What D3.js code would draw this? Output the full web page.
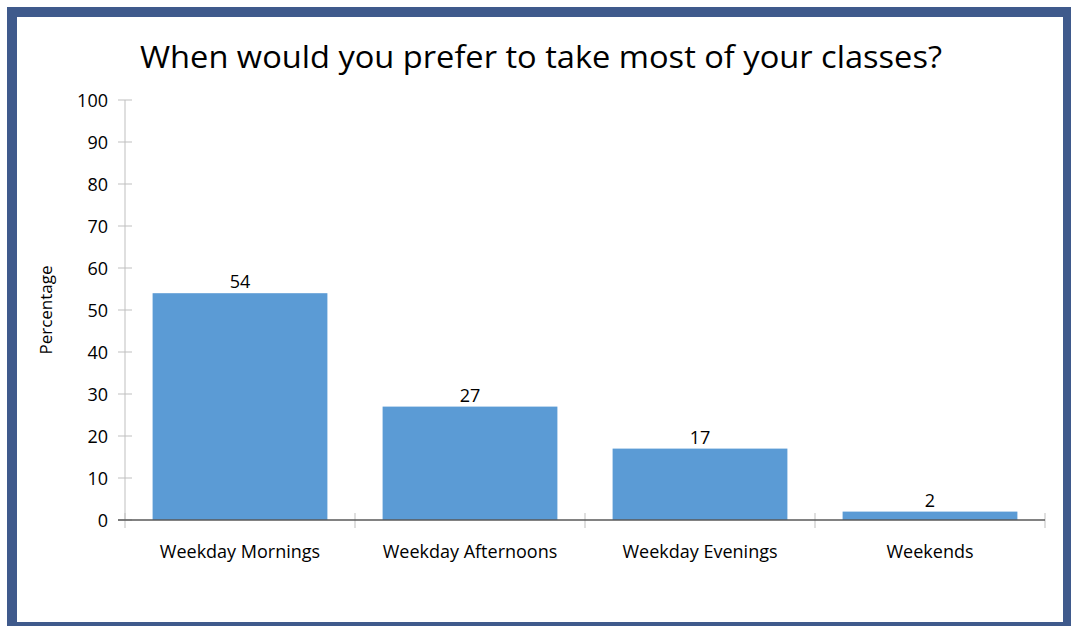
<!DOCTYPE html>
<html>
<head>
<meta charset="utf-8">
<script src="https://cdn.jsdelivr.net/npm/d3@7"></script>
<style>
  body { margin: 0; background: #fff; }
  text { font-family: "Open Sans", "Noto Sans", sans-serif; fill: #000; }
</style>
</head>
<body>
<div class="chart"></div>
<script>
const categories = ["Weekday Mornings", "Weekday Afternoons", "Weekday Evenings", "Weekends"];
const values = [54, 27, 17, 2];
const yTicks = [0, 10, 20, 30, 40, 50, 60, 70, 80, 90, 100];

const W = 1071, H = 626;
const svg = d3.select(".chart").append("svg")
    .attr("width", W)
    .attr("height", H);

// frame
svg.append("rect").attr("x", 7).attr("y", 7).attr("width", W - 7).attr("height", H - 7)
    .attr("fill", "#3f5a8c");
svg.append("rect").attr("x", 17).attr("y", 17).attr("width", 1046).attr("height", 605)
    .attr("fill", "#fff");

const plotL = 125, plotR = 1045, plotT = 100, plotB = 520;

const x = d3.scaleBand().domain(categories).range([plotL, plotR]).paddingInner(0.24).paddingOuter(0.12);
const xEdge = d3.scaleLinear().domain([0, categories.length]).range([plotL, plotR]);
const y = d3.scaleLinear().domain([0, 100]).range([plotB, plotT]);

svg.append("text")
    .attr("x", 541).attr("y", 68)
    .attr("text-anchor", "middle")
    .attr("textLength", 802)
    .attr("lengthAdjust", "spacingAndGlyphs")
    .style("font-size", "31px")
    .text("When would you prefer to take most of your classes?");

// y axis
svg.append("line").attr("x1", plotL).attr("x2", plotL).attr("y1", plotT).attr("y2", plotB)
    .attr("stroke", "#bfbfbf");
svg.selectAll(".ytick").data(yTicks).enter().append("line")
    .attr("x1", plotL - 7).attr("x2", plotL + 7)
    .attr("y1", d => y(d)).attr("y2", d => y(d))
    .attr("stroke", "#bfbfbf");
svg.selectAll(".ylab").data(yTicks).enter().append("text")
    .attr("x", 108).attr("y", d => y(d) + 6.5)
    .attr("text-anchor", "end")
    .style("font-size", "18px")
    .text(d => d);

svg.append("text")
    .attr("transform", "translate(52,310) rotate(-90)")
    .attr("text-anchor", "middle")
    .style("font-size", "17px")
    .text("Percentage");

// bars
svg.selectAll(".bar").data(values).enter().append("rect")
    .attr("x", (d, i) => x(categories[i]))
    .attr("width", x.bandwidth())
    .attr("y", d => y(d))
    .attr("height", d => y(0) - y(d))
    .attr("fill", "#5b9bd5");

svg.selectAll(".val").data(values).enter().append("text")
    .attr("x", (d, i) => x(categories[i]) + x.bandwidth() / 2)
    .attr("y", d => y(d) - 5)
    .attr("text-anchor", "middle")
    .style("font-size", "18px")
    .text(d => d);

// x axis
svg.selectAll(".xtick").data(d3.range(categories.length + 1)).enter().append("line")
    .attr("x1", d => xEdge(d)).attr("x2", d => xEdge(d))
    .attr("y1", plotB - 7).attr("y2", plotB + 8)
    .attr("stroke", "#bfbfbf");
svg.append("line").attr("x1", plotL - 7).attr("x2", plotR).attr("y1", plotB).attr("y2", plotB)
    .attr("stroke", "#595959").attr("stroke-width", 1.5);

svg.selectAll(".xlab").data(categories).enter().append("text")
    .attr("x", d => x(d) + x.bandwidth() / 2)
    .attr("y", 558)
    .attr("text-anchor", "middle")
    .style("font-size", "18px")
    .text(d => d);
</script>
</body>
</html>
